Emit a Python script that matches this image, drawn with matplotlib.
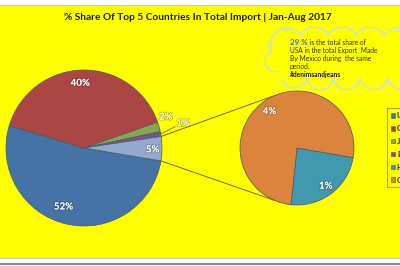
import numpy as np
import matplotlib
matplotlib.use("Agg")
import matplotlib.pyplot as plt
from matplotlib.patches import Rectangle, Circle, Patch
import matplotlib.patheffects as pe

plt.rcParams['font.family'] = ['Lato', 'DejaVu Sans']

""" Data """
title = "% Share Of Top 5 Countries In Total Import | Jan-Aug 2017"
countries = ["USA", "China", "Japan", "Bangladesh", "Hong Kong", "Others"]
main_values = [52, 40, 2, 1]      # USA, China, Japan, Bangladesh
sub_values = [1.2, 3.8]           # Hong Kong, Others  (-> "other" slice)
main_colors = ['#4572A7', '#AA4643', '#89A54E', '#71588F']
other_color = '#93A9CF'
sub_colors = ['#4198AF', '#DB843D']
note_lines = ["USA in the total Export  Made", "By Mexico during  the same", "period."]

""" Layout """
W, H = 400, 266
def py(y):  # pixel row -> data y
    return H - y

fig = plt.figure(figsize=(4, 2.66), dpi=100)
fig.patch.set_facecolor('white')
ax = fig.add_axes([0, 0, 1, 1])

ax.add_patch(Rectangle((-5, py(258)), W + 10, 253, facecolor='#FFFF00',
                       edgecolor='#c8c8c8', linewidth=0.8, zorder=0))
ax.axhline(py(264), color='#8a8a8a', linewidth=1.5, zorder=0)

edge = dict(edgecolor='#4a5568', linewidth=0.5)
white_lbl = dict(color='white', fontsize=7, fontweight='bold', ha='center', va='center',
                 path_effects=[pe.withStroke(linewidth=1.2, foreground='#00000040')])

# main pie
c1, r1 = (84, py(148)), 78
vals1 = main_values + [sum(sub_values)]
w1, _ = ax.pie(vals1, colors=main_colors + [other_color], startangle=-9.5,
               counterclock=False, center=c1, radius=r1, wedgeprops=edge, frame=True)
dist1 = [0.80, 0.83, 1.12, 1.31, 0.88]
shift1 = [-6, 2, 5, 3.5, -1]
for w, v, d, s in zip(w1, vals1, dist1, shift1):
    a = np.deg2rad((w.theta1 + w.theta2) / 2 + s)
    ax.text(c1[0] + d * r1 * np.cos(a), c1[1] + d * r1 * np.sin(a), f"{v:.0f}%", **white_lbl)

# leader for small 1% slice
a = np.deg2rad((w1[3].theta1 + w1[3].theta2) / 2)
ax.plot([c1[0] + r1 * np.cos(a), c1[0] + 1.2 * r1 * np.cos(a + 0.05)],
        [c1[1] + r1 * np.sin(a), c1[1] + 1.2 * r1 * np.sin(a + 0.05)],
        color='#7a7a30', linewidth=0.6, zorder=3)

# secondary pie
c2, r2 = (297, py(148)), 57
w2, _ = ax.pie(sub_values, colors=sub_colors, startangle=-9.7, counterclock=False,
               center=c2, radius=r2, wedgeprops=edge, frame=True)
for w, v, d in zip(w2, sub_values, [0.84, 0.80]):
    a = np.deg2rad((w.theta1 + w.theta2) / 2)
    ax.text(c2[0] + d * r2 * np.cos(a), c2[1] + d * r2 * np.sin(a), f"{v:.0f}%", **white_lbl)

# connector lines
for ang_main, ang_sub in [(w1[4].theta2, 112.5), (w1[4].theta1, -113.5)]:
    am, as_ = np.deg2rad(ang_main), np.deg2rad(ang_sub)
    ax.plot([c1[0] + r1 * np.cos(am), c2[0] + r2 * np.cos(as_)],
            [c1[1] + r1 * np.sin(am), c2[1] + r2 * np.sin(as_)],
            color='#6b6b20', linewidth=0.7, zorder=3)

# title
ax.text(198, py(17), title, fontsize=7.3, fontweight='bold', color='#1a1a1a',
        ha='center', va='center')

# cloud callout (union of circles: outlines first, fills on top)
bumps = [(287, 45, 16), (314, 44, 16), (342, 44, 16), (370, 44, 16), (398, 45, 16),
         (276, 61, 10), (294, 75, 12), (320, 76, 13), (347, 76, 13), (374, 76, 13), (401, 75, 13)]
for x, y, r in bumps:
    ax.add_patch(Circle((x, py(y)), r, facecolor='none', edgecolor='#bfe2ea', linewidth=2.0, zorder=4))
for x, y, r in bumps:
    ax.add_patch(Circle((x, py(y)), r, facecolor='#FFFF00', edgecolor='none', zorder=5))
ax.add_patch(Rectangle((280, py(78)), 130, 34, facecolor='#FFFF00', edgecolor='none', zorder=5))

t1 = ax.text(290, py(45), "29 %", fontsize=5.8, fontweight='bold', color='#2e75b6',
             ha='left', va='baseline', zorder=6)
ax.annotate(" is the total share of", xy=(1, 0), xycoords=t1, fontsize=4.8, color='#333300',
            ha='left', va='bottom', zorder=6)
for i, line in enumerate(note_lines):
    ax.text(290, py(53 + 8 * i), line, fontsize=4.8, color='#333300', ha='left', va='baseline', zorder=6)
ax.text(290, py(77), "#denimsandjeans", fontsize=4.8, fontweight='bold', color='#1a1a1a',
        ha='left', va='baseline', zorder=6)

# legend
handles = [Patch(facecolor=c, edgecolor='#555555', linewidth=0.4)
           for c in main_colors + sub_colors]
leg = fig.legend(handles, countries, loc='upper left', bbox_to_anchor=(387 / W, 1 - 108 / H),
                 fontsize=5.5, handlelength=0.6, handleheight=0.6, handletextpad=0.2,
                 labelspacing=0.78, borderpad=0.5, borderaxespad=0, frameon=True, fancybox=False)
leg.get_frame().set_facecolor('#FFFF00')
leg.get_frame().set_edgecolor('#8c8c5a')
leg.get_frame().set_linewidth(0.8)
for t in leg.get_texts():
    t.set_fontweight('bold')
    t.set_color('#1a1a1a')

ax.set_xlim(0, W)
ax.set_ylim(0, H)
ax.set_aspect('equal')
ax.axis('off')

fig.savefig("out.png", dpi=100, facecolor=fig.get_facecolor())
